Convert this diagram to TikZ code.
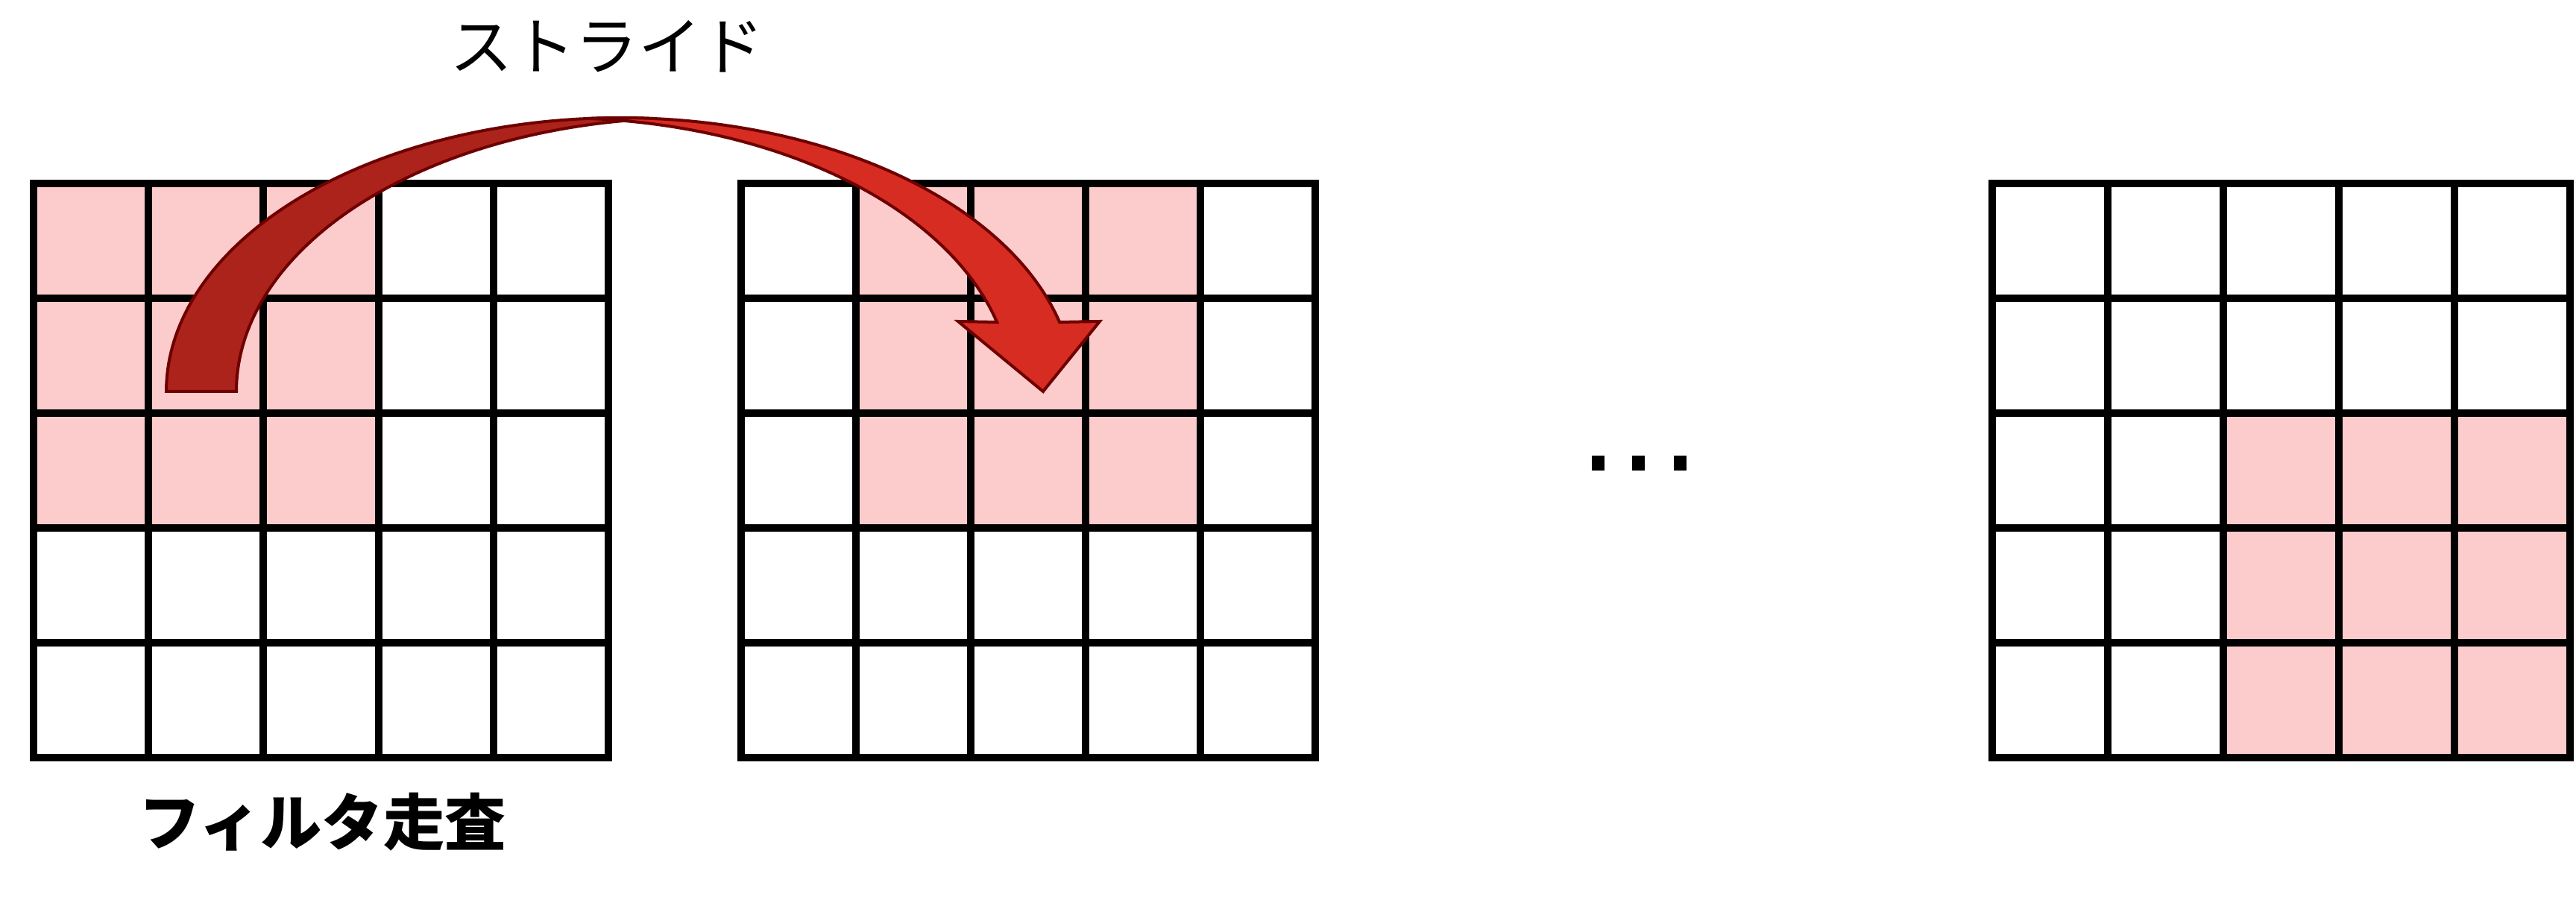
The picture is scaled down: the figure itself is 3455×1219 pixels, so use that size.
\documentclass[tikz,border=0pt]{standalone}
\usepackage{fontspec}
\newfontfamily\jpfont{Noto Sans CJK JP}
\definecolor{cellpink}{RGB}{252,203,203}
\definecolor{backred}{RGB}{172,35,28}
\definecolor{frontred}{RGB}{214,44,34}
\definecolor{edgered}{RGB}{110,0,0}
\begin{document}
\begin{tikzpicture}[x=0.01cm,y=-0.01cm,
  gridline/.style={line width=0.1cm, draw=black},
  shade3/.style={fill=cellpink},
  arrowpart/.style={draw=edgered, line width=0.04cm, line join=miter},
  dotbox/.style={fill=black, minimum width=0.17cm, minimum height=0.2cm, inner sep=0pt},
  labeltext/.style={font=\jpfont\fontsize{24}{28}\selectfont, inner sep=0pt}]
\useasboundingbox (0,0) rectangle (3455,1219);
\fill[white] (0,0) rectangle (3455,1219);
% grid 1
\fill[shade3] (45,246) rectangle ++(462.6,462);
\foreach \i in {1,...,4} {
  \draw[gridline] ({45+\i*154.2},246) -- ({45+\i*154.2},1016);
  \draw[gridline] (45,{246+\i*154}) -- (816,{246+\i*154});
}
\draw[gridline] (45,246) rectangle (816,1016);
% grid 2
\fill[shade3] (1148,246) rectangle ++(462,462);
\foreach \i in {1,...,4} {
  \draw[gridline] ({994+\i*154},246) -- ({994+\i*154},1016);
  \draw[gridline] (994,{246+\i*154}) -- (1764,{246+\i*154});
}
\draw[gridline] (994,246) rectangle (1764,1016);
% grid 3
\fill[shade3] (2982,554) rectangle (3447,1016);
\foreach \i in {1,...,4} {
  \draw[gridline] ({2672+\i*155},246) -- ({2672+\i*155},1016);
  \draw[gridline] (2672,{246+\i*154}) -- (3447,{246+\i*154});
}
\draw[gridline] (2672,246) rectangle (3447,1016);
% curved arrow: back band
\filldraw[arrowpart, fill=backred]
  plot[domain=180:274.43, samples=80, variable=\q] ({832+609*cos(\q)},{525+367*sin(\q)})
  -- plot[domain=265.57:180, samples=80, variable=\q] ({926+609*cos(\q)},{525+367*sin(\q)})
  -- cycle;
% curved arrow: front band with head
\filldraw[arrowpart, fill=frontred]
  plot[domain=265.95:345.32, samples=80, variable=\q] ({832+609*cos(\q)},{525+367*sin(\q)})
  -- (1475,431) -- (1399,525) -- (1285,431)
  -- plot[domain=345.32:273.95, samples=80, variable=\q] ({748+609*cos(\q)},{525+367*sin(\q)})
  -- cycle;
% dots
\node[dotbox] (dot1) at (2143.5,621) {};
\node[dotbox] (dot2) at (2197.5,621) {};
\node[dotbox] (dot3) at (2253.5,621) {};
% labels
\node[labeltext] (stride) at (814,62) {ストライド};
\node[labeltext, font=\jpfont\bfseries\fontsize{23.4}{28}\selectfont, anchor=west] (scan) at (186,1102) {フィルタ走査};
\end{tikzpicture}
\end{document}
